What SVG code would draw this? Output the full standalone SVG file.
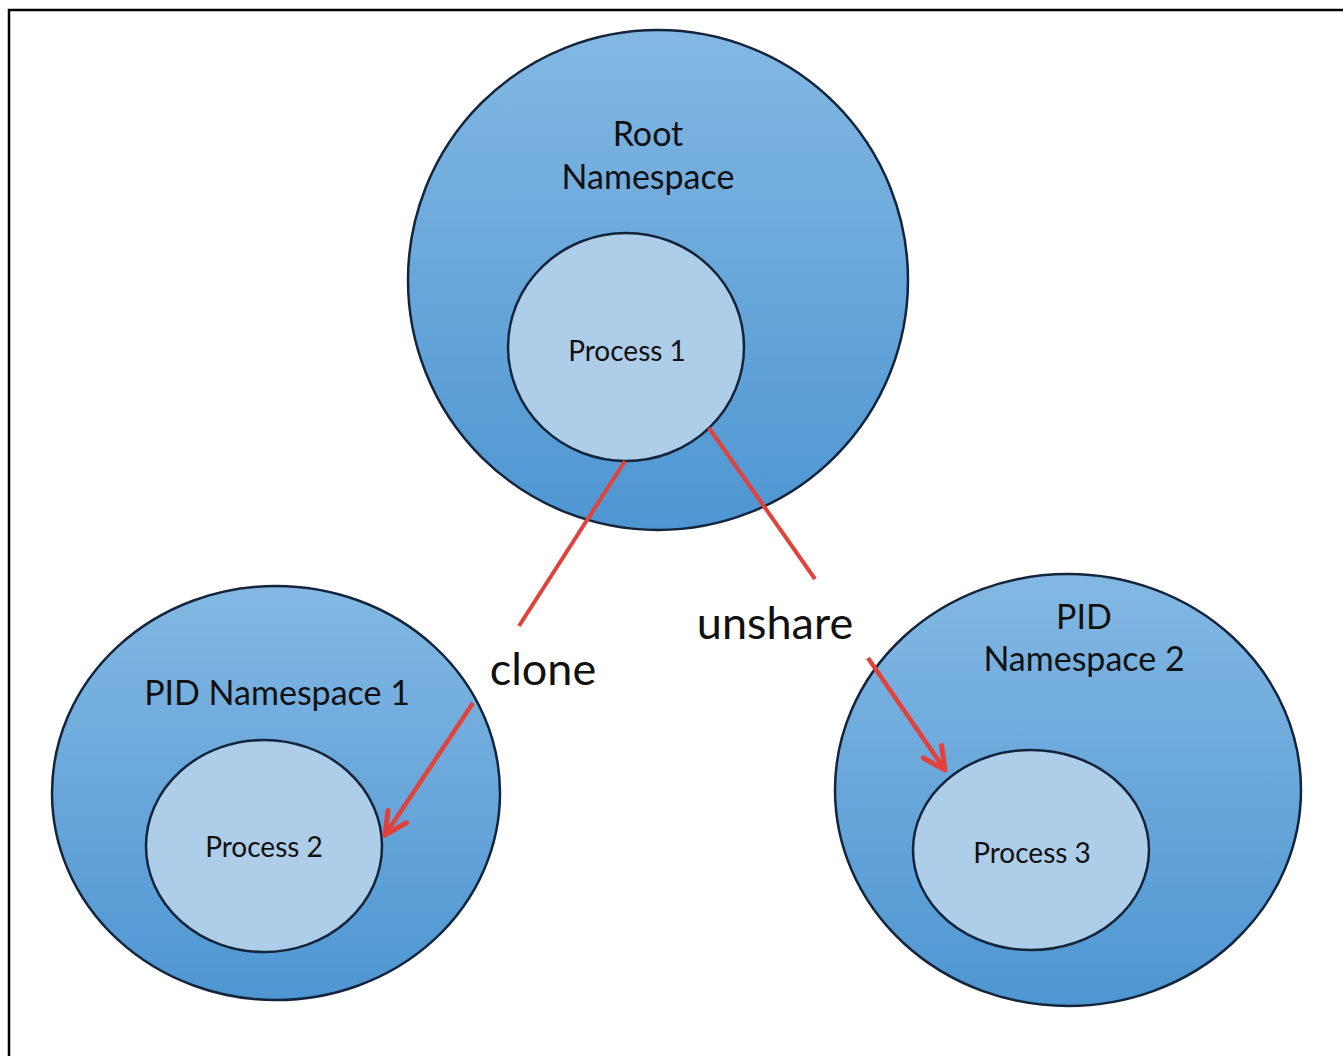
<svg xmlns="http://www.w3.org/2000/svg" width="1343" height="1056" viewBox="0 0 1343 1056">
<defs>
<linearGradient id="outerGrad" x1="0" y1="0" x2="0" y2="1">
<stop offset="0" stop-color="#83b8e3"/>
<stop offset="1" stop-color="#4e96d2"/>
</linearGradient>
<marker id="arrow" viewBox="0 0 10 10" refX="8.5" refY="5" markerWidth="7" markerHeight="7" orient="auto" markerUnits="strokeWidth">
<path d="M1.5 1.5 L8.5 5 L1.5 8.5" fill="none" stroke="#e2403a" stroke-width="1.6" stroke-linecap="round" stroke-linejoin="round"/>
</marker>
<style>
.outer{fill:url(#outerGrad);stroke:#13243b;stroke-width:2.5}
.inner{fill:#aecde9;stroke:#13243b;stroke-width:2.5}
.lbl{font-family:Lato,"Open Sans",sans-serif;fill:#111;text-anchor:middle}
.big{font-size:34px}
.small{font-size:28px}
.op{font-family:Lato,"Open Sans",sans-serif;font-size:45px;fill:#111;text-anchor:middle}
.red{stroke:#e0423c;stroke-width:4;fill:none;stroke-linecap:butt}
.arr{stroke-width:4.5}
</style>
</defs>
<rect width="1343" height="1056" fill="#fff"/>
<path d="M9 1056 V10 H1343" fill="none" stroke="#000" stroke-width="2.5"/>
<g id="root-ns">
<circle class="outer" cx="658" cy="280" r="250"/>
<text class="lbl big" x="648" y="146">Root</text>
<text class="lbl big" x="648" y="189">Namespace</text>
</g>
<g id="process1">
<ellipse class="inner" cx="626" cy="347" rx="118" ry="114"/>
<text class="lbl small" x="627" y="361">Process 1</text>
</g>
<g id="pid-ns1">
<ellipse class="outer" cx="276" cy="793" rx="224" ry="207"/>
<text class="lbl big" x="277" y="705">PID Namespace 1</text>
</g>
<g id="process2">
<ellipse class="inner" cx="264" cy="846" rx="118" ry="106"/>
<text class="lbl small" x="264" y="857">Process 2</text>
</g>
<g id="pid-ns2">
<ellipse class="outer" cx="1068" cy="790" rx="233" ry="216"/>
<text class="lbl big" x="1084" y="629">PID</text>
<text class="lbl big" x="1084" y="671">Namespace 2</text>
</g>
<g id="process3">
<ellipse class="inner" cx="1031" cy="850" rx="118" ry="100"/>
<text class="lbl small" x="1032" y="863">Process 3</text>
</g>
<g id="connectors">
<line class="red" x1="625" y1="461" x2="519" y2="626"/>
<line class="red" x1="709" y1="428" x2="815" y2="579"/>
<line class="red arr" x1="473" y1="703" x2="385" y2="835" marker-end="url(#arrow)"/>
<line class="red arr" x1="868" y1="658" x2="945" y2="770" marker-end="url(#arrow)"/>
<text class="op" x="543" y="685">clone</text>
<text class="op" x="775" y="639">unshare</text>
</g>
</svg>
